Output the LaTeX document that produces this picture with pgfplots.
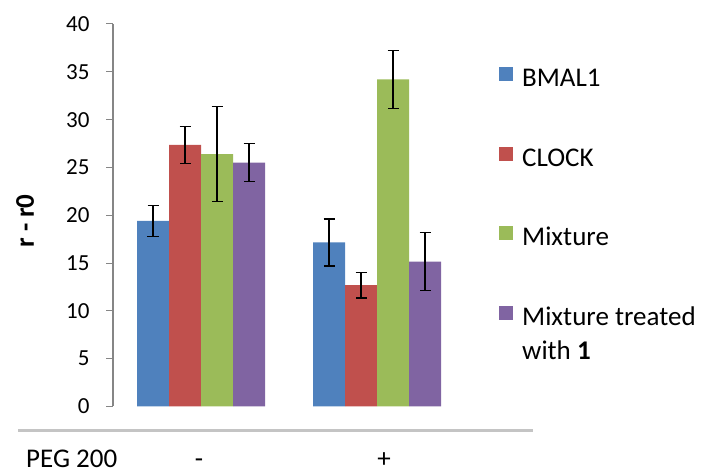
\documentclass[border=0pt]{standalone}
\usepackage{pgfplots}
\pgfplotsset{compat=1.18}
\usepackage{fontspec}
\setmainfont{Carlito}
\definecolor{cBlue}{HTML}{4F81BD}
\definecolor{cRed}{HTML}{C0504D}
\definecolor{cGreen}{HTML}{9BBB59}
\definecolor{cPurple}{HTML}{8064A2}
\definecolor{axgray}{HTML}{868686}
\definecolor{linegray}{HTML}{C4C4C4}
\begin{document}
\begin{tikzpicture}[x=1pt,y=1pt]
\useasboundingbox (0,0) rectangle (702,476);
\begin{axis}[
  at={(113pt,69.5pt)}, anchor=south west,
  scale only axis, width=352pt, height=382.5pt,
  xmin=-0.5, xmax=1.5, ymin=0, ymax=40,
  ybar=0pt, bar width=32pt,
  axis x line=none, axis y line*=left,
  ytick={0,5,...,40}, xtick=\empty,
  tick align=outside, major tick length=7pt,
  y axis line style={color=axgray, line width=1.2pt},
  ytick style={color=axgray, line width=1pt},
  yticklabel style={font=\fontsize{23}{27}\selectfont, black, xshift=-13pt},
  /pgf/number format/assume math mode=true,
  clip=false,
  legend cell align=left,
  legend image code/.code={\fill[#1] (0pt,-0.5pt) rectangle (14pt,13.5pt);},
  legend style={draw=none, fill=none, inner sep=0pt,
    at={(1.0966,0.8876)}, anchor=north west,
    font=\fontsize{27}{32}\selectfont, row sep=54pt,
    nodes={inner sep=0pt, text height=18pt, text depth=6pt},
    /tikz/every odd column/.style={column sep=9pt}},
  error bars/y dir=both, error bars/y explicit,
  error bars/error bar style={black, line width=1.2pt},
  error bars/error mark options={rotate=90, mark size=5.5pt, black, line width=1.2pt},
]
\addplot[fill=cBlue, draw=none] coordinates {(0,19.4) +- (0,1.65) (1,17.15) +- (0,2.45)};
\addplot[fill=cRed, draw=none] coordinates {(0,27.35) +- (0,1.9) (1,12.7) +- (0,1.35)};
\addplot[fill=cGreen, draw=none] coordinates {(0,26.4) +- (0,5.0) (1,34.2) +- (0,3.05)};
\addplot[fill=cPurple, draw=none] coordinates {(0,25.5) +- (0,2.0) (1,15.15) +- (0,3.05)};
\legend{BMAL1, CLOCK, Mixture, Mixture treated}
\end{axis}
\node[font=\fontsize{27}{32}\selectfont, anchor=base west, inner sep=0pt] at (522,116) {with \textbf{1}};
\draw[linegray, line width=3pt] (18,45) -- (533,45);
\node[font=\fontsize{27}{32}\selectfont, anchor=base west, inner sep=0pt] at (26,8) {PEG 200};
\node[font=\fontsize{27}{32}\selectfont, anchor=base, inner sep=0pt] at (199,8) {-};
\node[font=\fontsize{27}{32}\selectfont, anchor=base, inner sep=0pt] at (384,8) {+};
\node[font=\bfseries\fontsize{27}{31}\selectfont, rotate=90, inner sep=0pt] at (25,255) {r - r0};
\end{tikzpicture}
\end{document}
